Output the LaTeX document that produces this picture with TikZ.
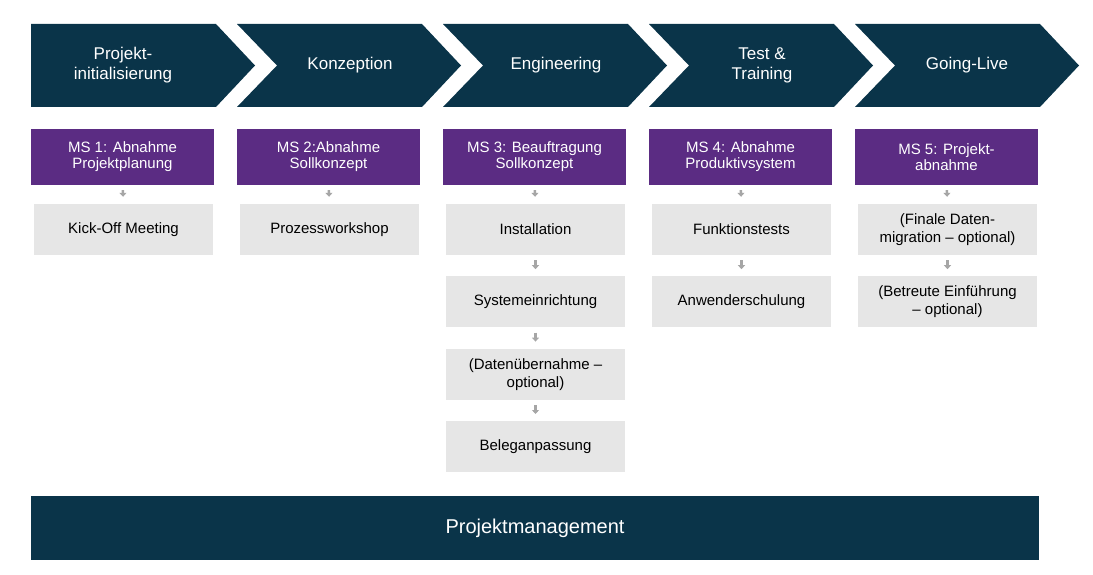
\documentclass[tikz,border=0pt]{standalone}
\usepackage{fontspec}
\setmainfont{Liberation Sans}
\usetikzlibrary{positioning, arrows.meta}
\definecolor{navy}{HTML}{0A3449}
\definecolor{lila}{HTML}{5B2C83}
\definecolor{hell}{HTML}{E6E6E6}
\definecolor{pfeil}{HTML}{A6A6A6}
\tikzset{
  ms/.style = {fill = lila, text = white, minimum width = 183pt, minimum height = 56pt,
    align = center, inner sep = 0pt, font = \fontsize{15}{16}\selectfont},
  task/.style = {fill = hell, minimum width = 179pt, minimum height = 51pt,
    align = center, inner sep = 0pt, font = \fontsize{15}{18}\selectfont},
  folge/.style = {draw = pfeil, line width = 2.5pt, -{Triangle[length=4pt, width=7pt]}, shorten <= 5pt, shorten >= 7pt},
  phase/.style = {text = white, align = center, font = \fontsize{17}{20}\selectfont}
}
\begin{document}
\begin{tikzpicture}[x = 1pt, y = -1pt]
        \useasboundingbox (0,0) rectangle (1093,575);
        % chevrons
        \fill[navy] (31,24) -- (216,24) -- (255,65.5) -- (216,107) -- (31,107) -- cycle;
        \foreach \i in {1,...,4} {
          \fill[navy] ({31+206*\i},24) -- ({216+206*\i},24) -- ({255+206*\i},65.5) -- ({216+206*\i},107)
                -- ({31+206*\i},107) -- ({71+206*\i},65.5) -- cycle;
        }
        \node[phase] (ph1) at (123,65.5) {Projekt-\\initialisierung};
        \node[phase] (ph2) at (350,65.5) {Konzeption};
        \node[phase] (ph3) at (556,65.5) {Engineering};
        \node[phase] (ph4) at (762,65.5) {Test \&\\Training};
        \node[phase] (ph5) at (967,65.5) {Going-Live};

        % meilensteine
        \node[ms] (ms1) at (122.5,157) {MS 1: Abnahme\\Projektplanung};
        \node[ms] (ms2) at (328.5,157) {MS 2:Abnahme\\Sollkonzept};
        \node[ms] (ms3) at (534.5,157) {MS 3: Beauftragung\\Sollkonzept};
        \node[ms] (ms4) at (740.5,157) {MS 4: Abnahme\\Produktivsystem};
        \node[ms] (ms5) at (946.5,157) {MS 5: Projekt-\\abnahme};

        % aufgaben
        \node[task] (kick) at (123.5,229.5) {Kick-Off Meeting};
        \node[task] (work) at (329.5,229.5) {Prozessworkshop};
        \node[task] (inst) at (535.5,229.5) {Installation};
        \node[task, below = 21pt of inst] (sys) {Systemeinrichtung};
        \node[task, below = 21pt of sys] (daten) {(Datenübernahme –\\optional)};
        \node[task, below = 21pt of daten] (beleg) {Beleganpassung};
        \node[task] (funk) at (741.5,229.5) {Funktionstests};
        \node[task, below = 21pt of funk] (schul) {Anwenderschulung};
        \node[task] (mig) at (947.5,229.5) {(Finale Daten-\\migration – optional)};
        \node[task, below = 21pt of mig] (einf) {(Betreute Einführung\\– optional)};

        \draw[folge] (ms1) -- (kick);
        \draw[folge] (ms2) -- (work);
        \draw[folge] (ms3) -- (inst);
        \draw[folge] (inst) -- (sys);
        \draw[folge] (sys) -- (daten);
        \draw[folge] (daten) -- (beleg);
        \draw[folge] (ms4) -- (funk);
        \draw[folge] (funk) -- (schul);
        \draw[folge] (ms5) -- (mig);
        \draw[folge] (mig) -- (einf);

        % projektmanagement
        \node[fill = navy, text = white, minimum width = 1008pt, minimum height = 64pt, inner sep = 0pt,
          font = \fontsize{20}{24}\selectfont] (pm) at (535,528) {Projektmanagement};
\end{tikzpicture}
\end{document}
